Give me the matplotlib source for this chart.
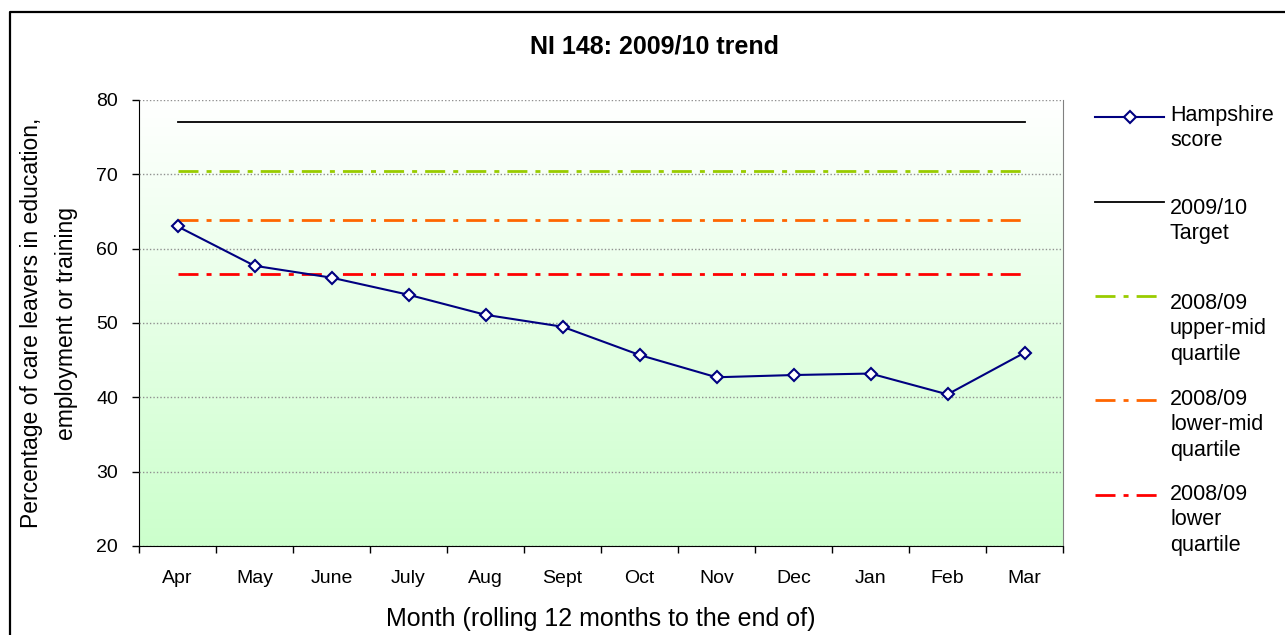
import matplotlib
matplotlib.use("Agg")
import matplotlib.pyplot as plt
import numpy as np
from matplotlib.colors import LinearSegmentedColormap
from matplotlib.lines import Line2D

plt.rcParams['font.family'] = ['Liberation Sans', 'DejaVu Sans']

months = ['Apr', 'May', 'June', 'July', 'Aug', 'Sept', 'Oct', 'Nov', 'Dec', 'Jan', 'Feb', 'Mar']
hampshire = [63.0, 57.7, 56.1, 53.8, 51.1, 49.5, 45.7, 42.7, 43.0, 43.2, 40.4, 46.0]
target = 77.0
upper_mid = 70.5
lower_mid = 63.9
lower_q = 56.6

W, H = 1285, 635
fig = plt.figure(figsize=(W / 100, H / 100), dpi=100)


def fx(x):
    return x / W


def fy(y):
    return 1 - y / H


ax = fig.add_axes([fx(139), fy(546), fx(1063) - fx(139), fy(100) - fy(546)])
ax.set_facecolor('none')

# background gradient, white at top to pale green at bottom
cmap = LinearSegmentedColormap.from_list('bg', ['#ffffff', '#ccffcc'])
ax.imshow(np.linspace(0, 1, 256).reshape(-1, 1), extent=[-0.5, 11.5, 20, 80],
          aspect='auto', cmap=cmap, zorder=0)

x = np.arange(len(months))
dd = (0, (7.2, 2.9, 1.8, 2.9))
ax.plot([x[0], x[-1]], [target, target], color='black', lw=1.3, zorder=3)
ax.plot([x[0], x[-1]], [upper_mid, upper_mid], color='#99cc00', lw=2, ls=dd, zorder=3)
ax.plot([x[0], x[-1]], [lower_mid, lower_mid], color='#ff6600', lw=2, ls=dd, zorder=3)
ax.plot([x[0], x[-1]], [lower_q, lower_q], color='#ff0000', lw=2, ls=dd, zorder=3)
ax.plot(x, hampshire, color='#000080', lw=1.5, marker='D', markersize=6.5,
        markerfacecolor='white', markeredgecolor='#000080', markeredgewidth=1.5, zorder=4)

ax.set_xlim(-0.5, 11.5)
ax.set_ylim(20, 80)
ax.set_yticks(range(20, 81, 10))
ax.yaxis.grid(True, linestyle=(0, (1, 1.5)), color='#909090', lw=1)
ax.set_axisbelow(False)
for gl in ax.get_ygridlines():
    gl.set_zorder(1)

ax.set_xticks(x)
ax.set_xticklabels(months)
ax.set_xticks(np.arange(-0.5, 12, 1), minor=True)
ax.tick_params(axis='x', which='major', length=0, pad=17, labelsize=14)
ax.tick_params(axis='x', which='minor', length=5, width=1, direction='out')
ax.tick_params(axis='y', length=5, width=1, direction='out', pad=10, labelsize=14)

ax.spines['top'].set_visible(False)
ax.spines['right'].set_color('#808080')

ax.set_xlabel('Month (rolling 12 months to the end of)', fontsize=18, labelpad=15)
ax.set_ylabel('Percentage of care leavers in education,\nemployment or training',
              fontsize=16.5, multialignment='center', linespacing=1.68, labelpad=13)

fig.text(fx(654), fy(46), 'NI 148: 2009/10 trend', fontsize=18, fontweight='bold',
         ha='center', va='center')

# legend drawn beside the plot: label, line style, handle y, first text line y, marker
entries = [
    ('Hampshire\nscore', dict(color='#000080', lw=1.5), 117, 116, True),
    ('2009/10\nTarget', dict(color='black', lw=1.3), 202, 209, False),
    ('2008/09\nupper-mid\nquartile', dict(color='#99cc00', lw=2, ls=dd), 296, 304, False),
    ('2008/09\nlower-mid\nquartile', dict(color='#ff6600', lw=2, ls=dd), 400, 400, False),
    ('2008/09\nlower\nquartile', dict(color='#ff0000', lw=2, ls=dd), 495, 495, False),
]
for label, style, yy, ty, mk in entries:
    fig.add_artist(Line2D([fx(1095), fx(1164)], [fy(yy), fy(yy)],
                          transform=fig.transFigure, **style))
    if mk:
        fig.add_artist(Line2D([fx(1130)], [fy(yy)], transform=fig.transFigure,
                              marker='D', markersize=6.5, markerfacecolor='white',
                              markeredgecolor='#000080', markeredgewidth=1.5))
    fig.text(fx(1170), fy(ty - 11), label, fontsize=15.5, ha='left', va='top',
             linespacing=1.27)

# chart border (left and top edges visible)
fig.add_artist(Line2D([fx(10), fx(10), fx(1300)], [fy(700), fy(12), fy(12)],
                      transform=fig.transFigure, color='black', lw=1.6))

fig.savefig('out.png', dpi=100)
